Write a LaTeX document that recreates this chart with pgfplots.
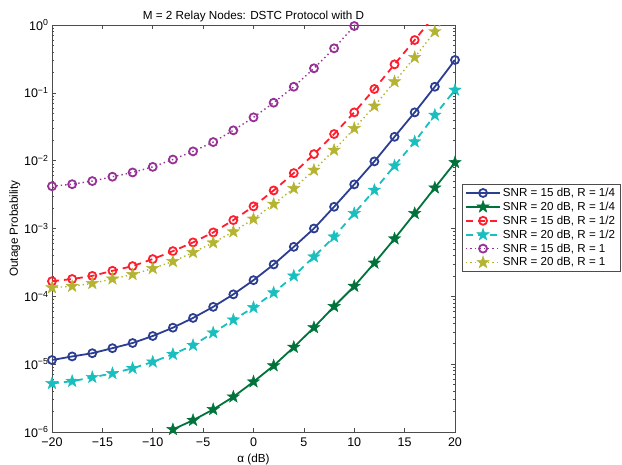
\documentclass[border=0pt]{standalone}
\usepackage{fontspec}
\setmainfont{Liberation Sans}
\usepackage{pgfplots}
\pgfplotsset{compat=1.18}
\definecolor{cblue}{RGB}{44,62,145}
\definecolor{cgreen}{RGB}{0,115,58}
\definecolor{cred}{RGB}{255,30,45}
\definecolor{ccyan}{RGB}{25,190,190}
\definecolor{cpurple}{RGB}{150,50,150}
\definecolor{cyellow}{RGB}{180,180,50}
\pgfdeclareplotmark{pentagram}{%
  \pgfpathmoveto{\pgfpointpolar{90}{\pgfplotmarksize}}%
  \pgfpathlineto{\pgfpointpolar{126}{0.4\pgfplotmarksize}}%
  \pgfpathlineto{\pgfpointpolar{162}{\pgfplotmarksize}}%
  \pgfpathlineto{\pgfpointpolar{198}{0.4\pgfplotmarksize}}%
  \pgfpathlineto{\pgfpointpolar{234}{\pgfplotmarksize}}%
  \pgfpathlineto{\pgfpointpolar{270}{0.4\pgfplotmarksize}}%
  \pgfpathlineto{\pgfpointpolar{306}{\pgfplotmarksize}}%
  \pgfpathlineto{\pgfpointpolar{342}{0.4\pgfplotmarksize}}%
  \pgfpathlineto{\pgfpointpolar{18}{\pgfplotmarksize}}%
  \pgfpathlineto{\pgfpointpolar{54}{0.4\pgfplotmarksize}}%
  \pgfpathclose
  \pgfusepathqfillstroke
}
\begin{document}
\begin{tikzpicture}
\begin{axis}[
  scale only axis, width=403pt, height=407pt,
  xmin=-20, xmax=20, ymode=log, ymin=1e-6, ymax=1,
  xtick={-20,-15,...,20},
  xticklabels={−20,−15,−10,−5,0,5,10,15,20},
  ytick={1e-6,1e-5,1e-4,1e-3,1e-2,1e-1,1},
  yticklabels={10\textsuperscript{−6},10\textsuperscript{−5},10\textsuperscript{−4},10\textsuperscript{−3},10\textsuperscript{−2},10\textsuperscript{−1},10\textsuperscript{0}},
  tick align=inside, tick pos=both,
  major tick length=4pt, minor tick length=2pt,
  tick style={black!70, line width=0.5pt},
  axis line style={black!70, line width=0.6pt},
  font=\fontsize{11.7}{13}\selectfont,
  tick label style={font=\fontsize{12.5}{14}\selectfont},
  xticklabel style={yshift=-2.5pt},
  title={M = 2 Relay Nodes: DSTC Protocol with D},
  title style={yshift=-6pt},
  xlabel={α (dB)}, ylabel={Outage Probability},
  ylabel shift=-3pt,
  legend style={at={(1.017,0.61)}, anchor=north west, draw=black!70, line width=0.6pt,
    font=\fontsize{11.6}{13}\selectfont, row sep=0pt, inner xsep=3pt, inner ysep=2pt},
  legend cell align=left,
  legend image code/.code={\draw[mark repeat=2,mark phase=2] plot coordinates {(0pt,0pt) (17pt,0pt) (34pt,0pt)};},
]
\addplot[cblue, line width=1.8pt, mark=o, mark size=4pt, mark options={solid}] coordinates {
(-20,1.15e-5) (-18,1.3e-5) (-16,1.45e-5) (-14,1.72e-5) (-12,2.05e-5) (-10,2.6e-5) (-8,3.45e-5) (-6,4.8e-5) (-4,7.0e-5) (-2,1.07e-4) (0,1.73e-4) (2,2.95e-4) (4,5.37e-4) (6,1.0e-3) (8,2.09e-3) (10,4.47e-3) (12,9.75e-3) (14,2.25e-2) (16,5.15e-2) (18,0.123) (20,0.305)};
\addlegendentry{SNR = 15 dB, R = 1/4}
\addplot[cgreen, line width=1.8pt, mark=pentagram, mark size=6.5pt, mark options={solid, fill=cgreen, line width=0.4pt}] coordinates {
(-8,1.09e-6) (-6,1.49e-6) (-4,2.15e-6) (-2,3.3e-6) (0,5.5e-6) (2,9.5e-6) (4,1.78e-5) (6,3.47e-5) (8,7.1e-5) (10,1.41e-4) (12,3.1e-4) (14,7.06e-4) (16,1.67e-3) (18,3.98e-3) (20,9.4e-3)};
\addlegendentry{SNR = 20 dB, R = 1/4}
\addplot[cred, line width=1.8pt, dash pattern=on 7pt off 5pt, mark=o, mark size=4pt, mark options={solid}] coordinates {
(-20,1.67e-4) (-18,1.8e-4) (-16,2.0e-4) (-14,2.38e-4) (-12,2.79e-4) (-10,3.54e-4) (-8,4.64e-4) (-6,6.24e-4) (-4,8.75e-4) (-2,1.33e-3) (0,2.12e-3) (2,3.64e-3) (4,6.56e-3) (6,1.25e-2) (8,2.47e-2) (10,5.15e-2) (12,0.114) (14,0.263) (16,0.6) (18,1.4)};
\addlegendentry{SNR = 15 dB, R = 1/2}
\addplot[ccyan, line width=1.8pt, dash pattern=on 7pt off 5pt, mark=pentagram, mark size=6.5pt, mark options={solid, fill=ccyan, line width=0.4pt}] coordinates {
(-20,5.2e-6) (-18,5.6e-6) (-16,6.4e-6) (-14,7.3e-6) (-12,8.7e-6) (-10,1.08e-5) (-8,1.4e-5) (-6,1.9e-5) (-4,2.9e-5) (-2,4.5e-5) (0,6.85e-5) (2,1.13e-4) (4,2.0e-4) (6,3.83e-4) (8,7.55e-4) (10,1.67e-3) (12,3.68e-3) (14,8.4e-3) (16,1.9e-2) (18,4.7e-2) (20,0.11)};
\addlegendentry{SNR = 20 dB, R = 1/2}
\addplot[cpurple, line width=1.4pt, dash pattern=on 1.4pt off 3pt, mark=o, mark size=4pt, mark options={solid, line width=1.8pt}] coordinates {
(-20,4.2e-3) (-18,4.5e-3) (-16,5.0e-3) (-14,5.8e-3) (-12,6.7e-3) (-10,8.1e-3) (-8,1.04e-2) (-6,1.37e-2) (-4,1.88e-2) (-2,2.8e-2) (0,4.35e-2) (2,7.15e-2) (4,0.123) (6,0.23) (8,0.453) (10,0.966) (12,2.1)};
\addlegendentry{SNR = 15 dB, R = 1}
\addplot[cyellow, line width=1.4pt, dash pattern=on 1.4pt off 3pt, mark=pentagram, mark size=6.5pt, mark options={solid, fill=cyellow, line width=0.4pt}] coordinates {
(-20,1.34e-4) (-18,1.41e-4) (-16,1.55e-4) (-14,1.81e-4) (-12,2.1e-4) (-10,2.58e-4) (-8,3.27e-4) (-6,4.44e-4) (-4,6.16e-4) (-2,8.95e-4) (0,1.38e-3) (2,2.29e-3) (4,3.9e-3) (6,7.27e-3) (8,1.43e-2) (10,2.99e-2) (12,6.39e-2) (14,0.146) (16,0.333) (18,0.8) (20,1.9)};
\addlegendentry{SNR = 20 dB, R = 1}
\end{axis}
\pgfresetboundingbox
\path (current axis.south west) ++(-52pt,-33pt) rectangle ++(622pt,465pt);
\end{tikzpicture}
\end{document}
